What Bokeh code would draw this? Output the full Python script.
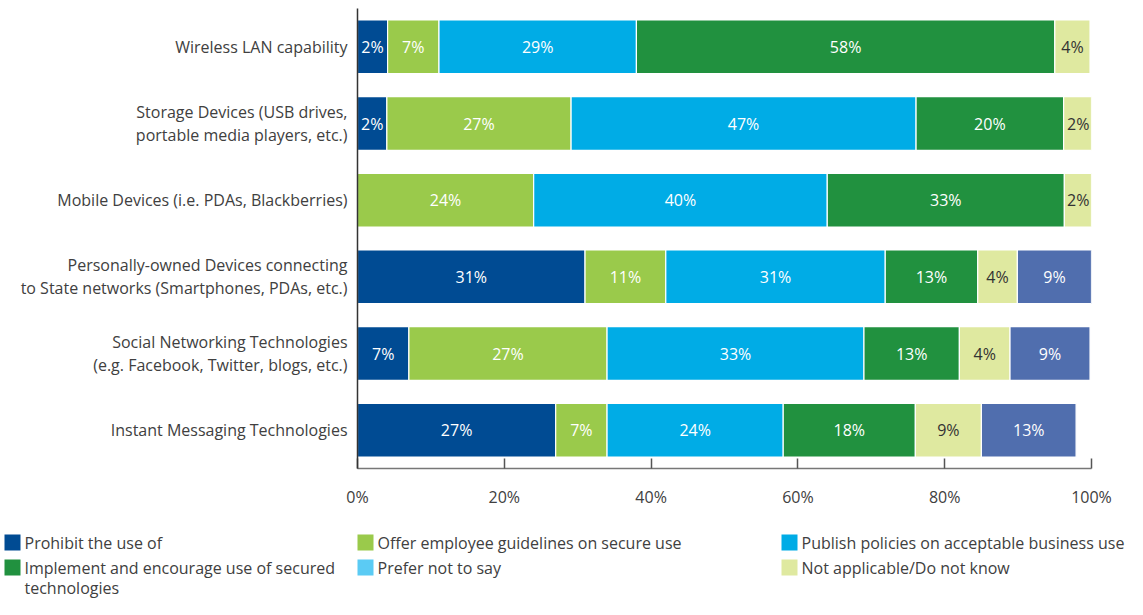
import numpy as np
from bokeh.plotting import figure
from bokeh.models import ColumnDataSource, FactorRange, Range1d, FixedTicker
from bokeh.core.properties import value
from bokeh.embed import file_html
from bokeh.resources import INLINE

# ---------------- data ----------------
categories = [
    "Wireless LAN capability",
    "Storage Devices (USB drives,\nportable media players, etc.)",
    "Mobile Devices (i.e. PDAs, Blackberries)",
    "Personally-owned Devices connecting\nto State networks (Smartphones, PDAs, etc.)",
    "Social Networking Technologies\n(e.g. Facebook, Twitter, blogs, etc.)",
    "Instant Messaging Technologies",
]

series_names = [
    "Prohibit the use of",
    "Offer employee guidelines on secure use",
    "Publish policies on acceptable business use",
    "Implement and encourage use of secured\ntechnologies",
    "Not applicable/Do not know",
    "Prefer not to say",
]

# bar lengths (percent) as drawn
prohibit = [4.1, 4.0, 0.0, 31.0, 7.0, 27.0]
offer = [7.0, 25.1, 24.0, 11.0, 27.0, 7.0]
publish = [26.9, 47.0, 40.0, 29.9, 35.0, 24.0]
implement = [57.0, 20.1, 32.3, 12.6, 13.0, 18.0]
not_applicable = [4.8, 4.0, 3.8, 5.4, 6.9, 9.0]
prefer_not = [0.0, 0.0, 0.0, 10.1, 10.9, 12.9]

# printed data labels
prohibit_labels = ["2%", "2%", "", "31%", "7%", "27%"]
offer_labels = ["7%", "27%", "24%", "11%", "27%", "7%"]
publish_labels = ["29%", "47%", "40%", "31%", "33%", "24%"]
implement_labels = ["58%", "20%", "33%", "13%", "13%", "18%"]
na_labels = ["4%", "2%", "2%", "4%", "4%", "9%"]
prefer_labels = ["", "", "", "9%", "9%", "13%"]

x_ticks = [0, 20, 40, 60, 80, 100]
x_tick_labels = ["0%", "20%", "40%", "60%", "80%", "100%"]

# ---------------- styles ----------------
bar_colors = ["#004B93", "#9ACA4B", "#00ACE6", "#21913F", "#DFE9A0", "#506EAE"]
legend_colors = ["#004B93", "#9ACA4B", "#00ACE6", "#21913F", "#DFE9A0", "#5BCBF4"]
label_colors = ["white", "white", "white", "white", "#333333", "white"]
FONT = "Open Sans"
FS = "16px"

values = [prohibit, offer, publish, implement, not_applicable, prefer_not]
labels = [prohibit_labels, offer_labels, publish_labels, implement_labels, na_labels, prefer_labels]

MAIN_H = 510
p = figure(
    width=1127, height=MAIN_H,
    y_range=FactorRange(factors=list(reversed(categories)), range_padding=0),
    x_range=Range1d(0, 100),
    output_backend="svg", toolbar_location=None,
    min_border_left=357, min_border_right=36, min_border_top=8,
    min_border_bottom=MAIN_H - 473,
)
p.outline_line_color = None
p.xgrid.visible = False
p.ygrid.visible = False

arr = np.array(values)
lefts = np.vstack([np.zeros(arr.shape[1]), np.cumsum(arr, axis=0)[:-1]])
rights = lefts + arr

for i, name in enumerate(series_names):
    mask = arr[i] > 0
    cats = [c for c, m in zip(categories, mask) if m]
    src = ColumnDataSource(dict(
        y=cats,
        left=lefts[i][mask],
        right=rights[i][mask],
        mid=((lefts[i] + rights[i]) / 2)[mask],
        lab=[l for l, m in zip(labels[i], mask) if m],
    ))
    p.hbar(y="y", left="left", right="right", height=0.7, source=src,
           fill_color=bar_colors[i], line_color="white", line_width=1.2)
    p.text(x="mid", y="y", text="lab", source=src,
           text_align="center", text_baseline="middle",
           text_font=value(FONT), text_font_size=FS, text_color=label_colors[i])

# axes
p.xaxis.ticker = FixedTicker(ticks=x_ticks)
p.xaxis.major_label_overrides = {t: l for t, l in zip(x_ticks, x_tick_labels)}
p.xaxis.minor_tick_line_color = None
p.xaxis.major_tick_in = 10
p.xaxis.major_tick_out = 0
p.xaxis.major_tick_line_color = "#555555"
p.xaxis.major_tick_line_width = 1.5
p.xaxis.axis_line_color = "#777777"
p.xaxis.axis_line_width = 1.5
p.xaxis.major_label_standoff = 17
p.xaxis.major_label_text_font = FONT
p.xaxis.major_label_text_font_size = FS
p.xaxis.major_label_text_color = "#404040"

p.yaxis.major_tick_line_color = None
p.yaxis.minor_tick_line_color = None
p.yaxis.axis_line_color = "#333333"
p.yaxis.axis_line_width = 1.5
p.yaxis.major_label_standoff = 4
p.yaxis.major_label_text_font = FONT
p.yaxis.major_label_text_font_size = FS
p.yaxis.major_label_text_color = "#404040"
p.yaxis.major_label_text_line_height = 1.05

# ---------------- legend (manual, 3 columns x 2 rows) ----------------
LEG_H = 599 - MAIN_H
leg = figure(
    width=1127, height=LEG_H,
    x_range=Range1d(0, 1127), y_range=Range1d(LEG_H, 0),
    output_backend="svg", toolbar_location=None,
    min_border_left=0, min_border_right=0, min_border_top=0, min_border_bottom=0,
)
leg.outline_line_color = None
leg.axis.visible = False
leg.grid.visible = False

legend_order = [0, 1, 2, 3, 5, 4]  # row-major order of legend entries
col_x = [4, 357, 781]
row_y = [32, 57]
lx, ly, lc, tx, ty, tt = [], [], [], [], [], []
for k, idx in enumerate(legend_order):
    r, c = divmod(k, 3)
    lx.append(col_x[c] + 8)
    ly.append(row_y[r])
    lc.append(legend_colors[idx])
    tx.append(col_x[c] + 20)
    ty.append(row_y[r] - 11)
    tt.append(series_names[idx])
leg.rect(x=lx, y=ly, width=16, height=16, width_units="screen", height_units="screen",
         fill_color=lc, line_color=None)
leg.text(x=tx, y=ty, text=tt, text_align="left", text_baseline="top",
         text_font=value(FONT), text_font_size=FS, text_color="#404040",
         text_line_height=0.95)

open("out.html", "w").write(file_html([p, leg], INLINE))
